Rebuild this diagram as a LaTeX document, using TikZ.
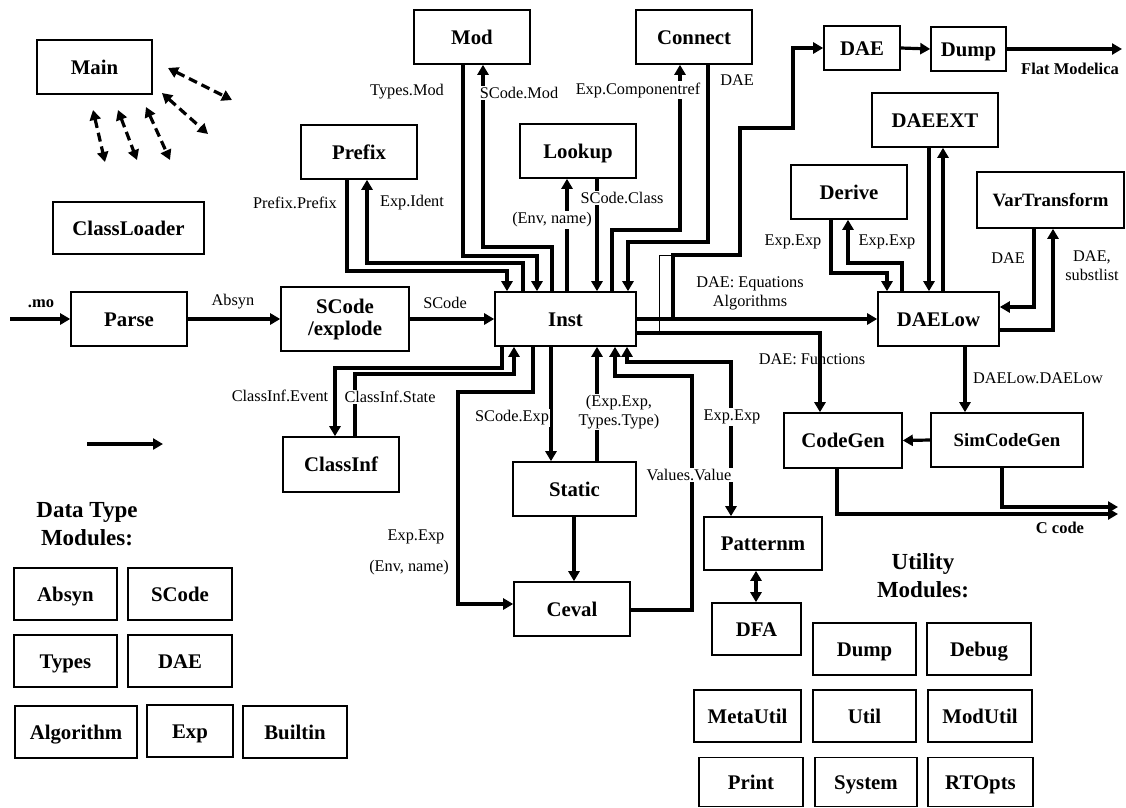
\documentclass[tikz,border=0pt]{standalone}
\usepackage{fontspec}
\setmainfont{Liberation Serif}
\usetikzlibrary{arrows.meta}
\begin{document}
\begin{tikzpicture}[x=1pt,y=-1pt,
  box/.style={draw, line width=1.6pt, inner sep=0pt, align=center, font=\bfseries\fontsize{20.8}{22}\selectfont},
  bx/.style n args={2}{box, minimum width=#1pt, minimum height=#2pt, text height=14pt, text depth=0pt},
  sbx/.style n args={2}{box, minimum width=#1pt, minimum height=#2pt, text height=13pt, text depth=0pt, font=\bfseries\fontsize{18.8}{21}\selectfont},
  mbx/.style n args={2}{box, minimum width=#1pt, minimum height=#2pt},
  lbl/.style={font=\fontsize{16.3}{19}\selectfont, fill=white, inner sep=1.5pt, align=center},
  nlbl/.style={font=\fontsize{16.3}{19}\selectfont, inner sep=1pt, align=center},
  blbl/.style={font=\bfseries\fontsize{16.5}{18}\selectfont, inner sep=1pt},
  head/.style={font=\bfseries\fontsize{23}{28}\selectfont, align=center, inner sep=0pt},
  conn/.style={line width=3.2pt},
  arr/.style={conn, -{Triangle[length=10pt,width=11pt]}},
  darr/.style={conn, {Triangle[length=10pt,width=11pt]}-{Triangle[length=10pt,width=11pt]}},
  dasharr/.style={line width=3.2pt, dash pattern=on 9pt off 5pt, {Triangle[length=10pt,width=11pt]}-{Triangle[length=10pt,width=11pt]}},
  thin/.style={line width=0.8pt}]
\useasboundingbox (0,0) rectangle (1126,807);

% ---------- nodes ----------
\node[bx={115}{54}] (main) at (94.5,67) {Main};
\node[bx={151}{52}] (classloader) at (128.5,228) {ClassLoader};
\node[bx={116}{54}] (prefix) at (359,152) {Prefix};
\node[bx={116}{54}] (mod) at (472,37) {Mod};
\node[bx={116}{54}] (connect) at (694,37) {Connect};
\node[bx={116}{54}] (lookup) at (578,151) {Lookup};
\node[bx={76}{44}] (daetop) at (862,48) {DAE};
\node[bx={75}{44}] (dumptop) at (968.5,49) {Dump};
\node[bx={126}{54}] (daeext) at (935,120) {DAEEXT};
\node[bx={116}{54}] (derive) at (849,192) {Derive};
\node[sbx={147}{56}] (vartransform) at (1050.5,200) {VarTransform};
\node[bx={116}{54}] (parse) at (129,319) {Parse};
\node[mbx={128}{64}] (scode) at (345,319) {SCode\\/explode};
\node[bx={141}{54}] (inst) at (565.5,319) {Inst};
\node[bx={121}{54}] (daelow) at (938.5,319) {DAELow};
\node[bx={116}{55}] (classinf) at (341,464.5) {ClassInf};
\node[bx={123}{54}] (static) at (574.5,489) {Static};
\node[bx={116}{54}] (ceval) at (572,609) {Ceval};
\node[bx={118}{53}] (patternm) at (763,543.5) {Patternm};
\node[bx={89}{52}] (dfa) at (756.5,629) {DFA};
\node[bx={118}{55}] (codegen) at (843,440.5) {CodeGen};
\node[sbx={152}{54}] (simcodegen) at (1007,440) {SimCodeGen};

% data type modules
\node[head] (dthead) at (87,524) {Data Type\\Modules:};
\node[bx={103}{52}] (absyn) at (65.5,594) {Absyn};
\node[bx={104}{52}] (scodeb) at (180,594) {SCode};
\node[bx={103}{52}] (types) at (65.5,661) {Types};
\node[bx={104}{52}] (daeb) at (180,661) {DAE};
\node[bx={122}{52}] (algorithm) at (76,732) {Algorithm};
\node[bx={86}{52}] (exp) at (190,731) {Exp};
\node[bx={104}{52}] (builtin) at (295,732) {Builtin};

% utility modules
\node[head] (uthead) at (923,576) {Utility\\Modules:};
\node[bx={103}{52}] (dumpu) at (864.5,649) {Dump};
\node[bx={104}{52}] (debug) at (979,649) {Debug};
\node[bx={107}{52}] (metautil) at (747.5,716) {MetaUtil};
\node[bx={103}{52}] (util) at (864.5,716) {Util};
\node[bx={104}{52}] (modutil) at (980,716) {ModUtil};
\node[bx={104}{49}] (print) at (751,782) {Print};
\node[bx={102}{49}] (system) at (866,782) {System};
\node[bx={105}{49}] (rtopts) at (980.5,782) {RTOpts};

% ---------- free ends ----------
\coordinate (d1a) at (168,68);  \coordinate (d1b) at (232,100);
\coordinate (d2a) at (162,93);  \coordinate (d2b) at (208,134);
\coordinate (d3a) at (146,107); \coordinate (d3b) at (170,160);
\coordinate (d4a) at (118,110); \coordinate (d4b) at (137,160);
\coordinate (d5a) at (93,110);  \coordinate (d5b) at (105,162);
\coordinate (moin) at (10,319);
\coordinate (flatout) at (1122,49);
\coordinate (ccode1) at (1118,514);
\coordinate (ccode2) at (1118,507);
\coordinate (legA) at (87,444); \coordinate (legB) at (163,444);
\coordinate (split) at (673,319);

% ---------- connectors ----------
\foreach \a/\b in {d1a/d1b,d2a/d2b,d3a/d3b,d4a/d4b,d5a/d5b}
  \draw[dasharr] (\a) -- (\b);

\draw[arr] (moin) -- (parse.west);
\draw[arr] (parse.east) -- (scode.west);
\draw[arr] (scode.east) -- (inst.west);

% Prefix
\draw[arr] (347,0 |- prefix.south) -- (347,271) -- (507,271) -- (507,0 |- inst.north);
\draw[arr] (523,0 |- inst.north) -- (523,263) -- (367,263) -- (367,0 |- prefix.south);
% Mod
\draw[arr] (463,0 |- mod.south) -- (463,256) -- (537,256) -- (537,0 |- inst.north);
\draw[arr] (552,0 |- inst.north) -- (552,247) -- (483,247) -- (483,0 |- mod.south);
% Lookup
\draw[arr] (567,0 |- inst.north) -- (567,0 |- lookup.south);
\draw[arr] (597,0 |- lookup.south) -- (597,0 |- inst.north);
% Connect
\draw[arr] (612,0 |- inst.north) -- (612,230) -- (680,230) -- (680,0 |- connect.south);
\draw[arr] (708,0 |- connect.south) -- (708,242) -- (628,242) -- (628,0 |- inst.north);

% Inst -> DAELow, DAE
\draw[arr] (inst.east) -- (daelow.west);
\draw[arr] (split) -- (673,255) -- (740,255) -- (740,128) -- (793,128) -- (793,48) -- (daetop.west);
\draw[thin] (659,333) -- (659,255) -- (673,255);
\draw[arr] (inst.east |- 0,333) -- (820,333) -- (820,0 |- codegen.north);
\draw[arr] (daetop.east) -- (dumptop.west);
\draw[arr] (dumptop.east) -- (flatout);

% Derive
\draw[arr] (831,0 |- derive.south) -- (831,273) -- (887,273) -- (887,0 |- daelow.north);
\draw[arr] (902,0 |- daelow.north) -- (902,263) -- (848,263) -- (848,0 |- derive.south);
% DAEEXT
\draw[arr] (929,0 |- daeext.south) -- (929,0 |- daelow.north);
\draw[arr] (943,0 |- daelow.north) -- (943,0 |- daeext.south);
% VarTransform
\draw[arr] (1034,0 |- vartransform.south) -- (1034,307) -- (daelow.east |- 0,307);
\draw[arr] (daelow.east |- 0,330) -- (1053,330) -- (1053,0 |- vartransform.south);
% code generation
\draw[arr] (965,0 |- daelow.south) -- (965,0 |- simcodegen.north);
\draw[arr] (simcodegen.west) -- (codegen.east);
\draw[arr] (837,0 |- codegen.south) -- (837,514) -- (ccode1);
\draw[arr] (1002,0 |- simcodegen.south) -- (1002,507) -- (ccode2);

% ClassInf
\draw[arr] (502,0 |- inst.south) -- (502,368) -- (335,368) -- (335,0 |- classinf.north);
\draw[arr] (355,0 |- classinf.north) -- (355,374) -- (514,374) -- (514,0 |- inst.south);
% Ceval / Static
\draw[arr] (533,0 |- inst.south) -- (533,392) -- (458,392) -- (458,604) -- (ceval.west |- 0,604);
\draw[arr] (551,0 |- inst.south) -- (551,0 |- static.north);
\draw[arr] (597,0 |- static.north) -- (597,0 |- inst.south);
\draw[arr] (ceval.east |- 0,610) -- (692,610) -- (692,376) -- (615,376) -- (615,0 |- inst.south);
\draw[darr] (627,0 |- inst.south) -- (627,362) -- (731,362) -- (731,0 |- patternm.north);
\draw[arr] (574,0 |- static.south) -- (574,0 |- ceval.north);
\draw[darr] (756,0 |- patternm.south) -- (756,0 |- dfa.north);

% legend arrow
\draw[arr] (legA) -- (legB);

% ---------- labels ----------
\node[lbl] (lTypesMod) at (407,92) {Types.Mod};
\node[lbl] (lSCodeMod) at (519,93) {SCode.Mod};
\node[lbl] (lCompref) at (638,90) {Exp.Componentref};
\node[lbl] (lDAEc) at (737,80) {DAE};
\node[lbl] (lPrefix) at (295,203) {Prefix.Prefix};
\node[lbl] (lIdent) at (412,203) {Exp.Ident};
\node[lbl] (lEnv1) at (552,220) {(Env, name)};
\node[lbl] (lClass) at (622,198) {SCode.Class};
\node[lbl] (lAbsyn) at (233,302) {Absyn};
\node[blbl] (lmo) at (41,304) {.mo};
\node[lbl] (lSCode) at (445,303) {SCode};
\node[lbl] (lEqs) at (750,293) {DAE: Equations\\Algorithms};
\node[nlbl] (lFuncs) at (812,359) {DAE: Functions};
\node[lbl] (lDer1) at (793,242) {Exp.Exp};
\node[lbl] (lDer2) at (887,242) {Exp.Exp};
\node[lbl] (lVT1) at (1008,258) {DAE};
\node[lbl] (lVT2) at (1092,266) {DAE,\\substlist};
\node[lbl] (lDL) at (1038,378) {DAELow.DAELow};
\node[lbl] (lEvent) at (280,396) {ClassInf.Event};
\node[lbl] (lState) at (390,397) {ClassInf.State};
\node[lbl] (lSExp) at (512,418) {SCode.Exp};
\node[lbl] (lExpType) at (619,412) {(Exp.Exp,\\Types.Type)};
\node[lbl] (lValue) at (689,475) {Values.Value};
\node[lbl] (lPat) at (732,417) {Exp.Exp};
\node[lbl] (lCev1) at (416,537) {Exp.Exp};
\node[lbl] (lCev2) at (409,568) {(Env, name)};
\node[blbl] (lFlat) at (1070,69) {Flat Modelica};
\node[blbl] (lC) at (1060,528) {C code};
\end{tikzpicture}
\end{document}
